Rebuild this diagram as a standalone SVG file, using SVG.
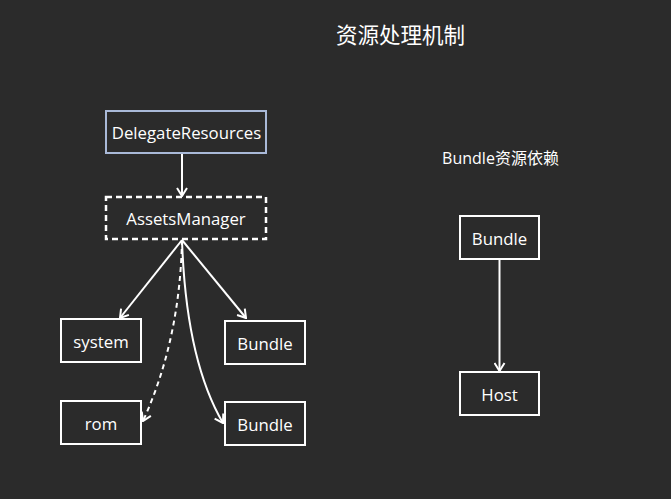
<svg xmlns="http://www.w3.org/2000/svg" width="671" height="499" viewBox="0 0 671 499">
<style>
.bg{fill:#2b2b2b}
.box{fill:#2b2b2b;stroke:#ffffff;stroke-width:2}
.t{font-family:"Open Sans","Noto Sans","Noto Sans CJK SC",sans-serif;font-size:16.8px;fill:#ffffff;text-anchor:middle}
.e{fill:none;stroke:#ffffff;stroke-width:2}
</style>
<defs>
<marker id="arr" viewBox="0 0 10 12" refX="9" refY="6" markerWidth="10" markerHeight="12" markerUnits="userSpaceOnUse" orient="auto">
<path d="M1,1 L9,6 L1,11" fill="none" stroke="#ffffff" stroke-width="2"/>
</marker>
</defs>
<rect class="bg" x="0" y="0" width="671" height="499"/>
<text x="400.5" y="43" class="t" style="font-size:21.5px;font-family:'Noto Sans CJK SC',sans-serif">资源处理机制</text>
<text x="500.5" y="164" class="t" style="font-size:16px;font-family:'Open Sans','Noto Sans CJK SC',sans-serif">Bundle资源依赖</text>
<g id="connectors">
<path class="e" d="M182,153 L182,196" marker-end="url(#arr)"/>
<path class="e" d="M182,240 L120,318" marker-end="url(#arr)"/>
<path class="e" d="M182,240 L246,318" marker-end="url(#arr)"/>
<path class="e" d="M182,240 Q180,340 143,421" stroke-dasharray="5,4" marker-end="url(#arr)"/>
<path class="e" d="M182,240 Q186,360 223,423" marker-end="url(#arr)"/>
<path class="e" d="M499.5,259 L499.5,371" marker-end="url(#arr)"/>
</g>
<g id="DelegateResources">
<rect class="box" x="106" y="111" width="160" height="42" style="stroke:#a9b9d8"/>
<text x="186.5" y="138.5" class="t">DelegateResources</text>
</g>
<g id="AssetsManager">
<rect class="box" x="106" y="197" width="160" height="42" stroke-dasharray="6,4" style="stroke-width:2.5"/>
<text x="186" y="224.5" class="t">AssetsManager</text>
</g>
<g id="system">
<rect class="box" x="61" y="319" width="80" height="43"/>
<text x="101" y="347.5" class="t">system</text>
</g>
<g id="Bundle1">
<rect class="box" x="225" y="321" width="80" height="43"/>
<text x="265" y="349.5" class="t">Bundle</text>
</g>
<g id="rom">
<rect class="box" x="61" y="401" width="80" height="43"/>
<text x="101" y="429.5" class="t">rom</text>
</g>
<g id="Bundle2">
<rect class="box" x="225" y="402" width="80" height="43"/>
<text x="265" y="430.5" class="t">Bundle</text>
</g>
<g id="Bundle3">
<rect class="box" x="460" y="216" width="79" height="43"/>
<text x="499.5" y="244.5" class="t">Bundle</text>
</g>
<g id="Host">
<rect class="box" x="460" y="372" width="79" height="43"/>
<text x="499.5" y="400.5" class="t">Host</text>
</g>
</svg>
